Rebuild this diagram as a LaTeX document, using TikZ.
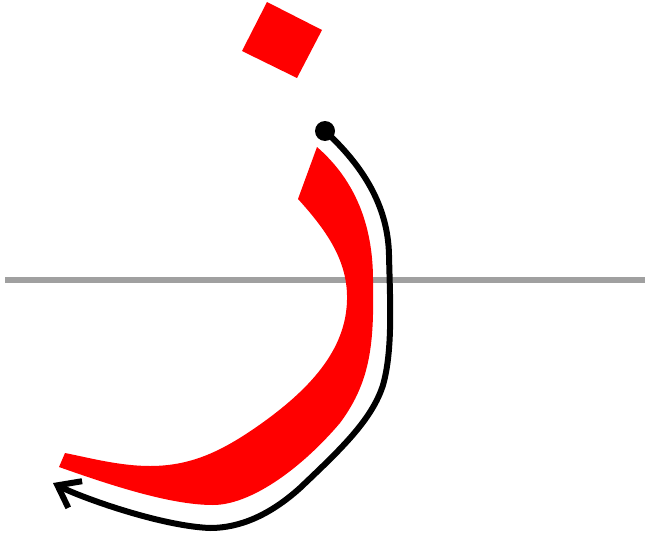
\documentclass[tikz,border=0pt]{standalone}
\usepackage{tikz}
\usetikzlibrary{arrows.meta}
\definecolor{inkred}{HTML}{FF0000}
\definecolor{baseline}{HTML}{A0A0A0}

\begin{document}
\begin{tikzpicture}[
    x=0.5pt, y=-0.5pt,
    baseline/.style={draw=baseline, line width=3pt},
    letter/.style={fill=inkred},
    guide/.style={draw=black, line width=3pt, line cap=round, line join=round},
]
\useasboundingbox (0,0) rectangle (647,535);

% Writing line
\coordinate (lineL) at (5,280);
\coordinate (lineR) at (645,280);
\draw[baseline] (lineL) -- (lineR);

% Dot above the letter
\fill[letter] (267,2) -- (322,30) -- (297,78) -- (242,51) -- cycle;

% Body of the letter
\fill[letter] (317,147) .. controls (355,180) and (373,225) .. (373,280)
  .. controls (374,340) and (372,380) .. (340,423)
  .. controls (300,470) and (250,505) .. (213,505)
  .. controls (170,505) and (110,485) .. (59,467)
  -- (65,453)
  .. controls (90,458) and (120,466) .. (150,466)
  .. controls (190,466) and (220,452) .. (255,428)
  .. controls (310,390) and (346,350) .. (347,300)
  .. controls (348,262) and (328,232) .. (298,199)
  -- cycle;

% Stroke direction
\coordinate (start) at (325,131);
\coordinate (finish) at (53,483);
\fill (start) circle[radius=5pt];
\draw[guide, -{Straight Barb[length=10pt, width=15pt]}]
  (start) .. controls (362,165) and (388,205) .. (389,255)
  .. controls (390,300) and (393,350) .. (383,385)
  .. controls (372,420) and (340,450) .. (300,488)
  .. controls (270,515) and (240,528) .. (210,528)
  .. controls (160,526) and (80,497) .. (finish);
\end{tikzpicture}
\end{document}
